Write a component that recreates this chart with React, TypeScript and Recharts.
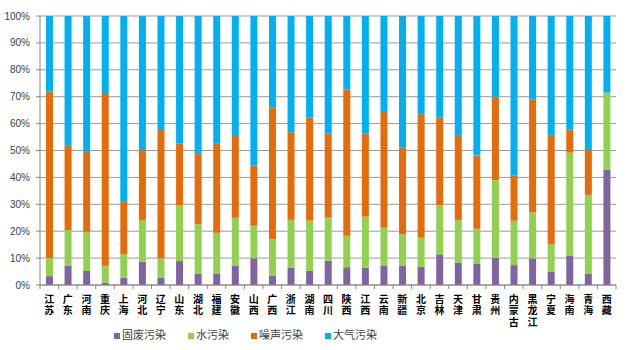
import React from 'react';
import { BarChart, Bar, XAxis, YAxis, CartesianGrid } from 'recharts';

const provinces = ['江苏', '广东', '河南', '重庆', '上海', '河北', '辽宁', '山东', '湖北', '福建', '安徽', '山西', '广西', '浙江', '湖南', '四川', '陕西', '江西', '云南', '新疆', '北京', '吉林', '天津', '甘肃', '贵州', '内蒙古', '黑龙江', '宁夏', '海南', '青海', '西藏'];
const solidWaste = [3.3, 7.2, 5.2, 0.9, 2.7, 8.7, 2.7, 8.9, 4.1, 4.3, 7.2, 9.9, 3.5, 6.4, 5.3, 9.0, 6.6, 6.4, 7.2, 7.2, 6.8, 11.4, 8.3, 7.8, 10.1, 7.4, 9.9, 4.9, 10.8, 4.1, 42.8];
const water = [6.7, 13.2, 14.6, 6.3, 8.7, 15.5, 7.2, 20.8, 18.6, 15.1, 17.8, 12.1, 13.5, 17.8, 18.6, 16.2, 11.7, 19.0, 14.1, 11.6, 10.8, 18.3, 15.9, 13.1, 28.9, 16.5, 17.1, 10.3, 38.4, 29.4, 28.7];
const noise = [61.9, 31.4, 30.0, 63.8, 19.8, 26.4, 47.7, 23.0, 26.3, 33.3, 30.4, 22.4, 48.9, 32.6, 38.4, 31.2, 54.4, 31.0, 43.4, 32.2, 45.9, 32.5, 31.6, 27.2, 31.0, 16.7, 42.0, 40.6, 8.7, 16.7, 0];
const air = [28.1, 48.2, 50.2, 29.0, 68.8, 49.4, 42.4, 47.3, 51.0, 47.3, 44.6, 55.6, 34.1, 43.2, 37.7, 43.6, 27.3, 43.6, 35.3, 49.0, 36.5, 37.8, 44.2, 51.9, 30.0, 59.4, 31.0, 44.2, 42.1, 49.8, 28.5];
const seriesNames = ['固废污染', '水污染', '噪声污染', '大气污染'];
const seriesKeys = ['solid', 'water', 'noise', 'air'];
const seriesColors = ['#8064A2', '#92D050', '#E46C0A', '#00B0F0'];
const yTicks = [0, 0.1, 0.2, 0.3, 0.4, 0.5, 0.6, 0.7, 0.8, 0.9, 1];

const data = provinces.map((p, i) => ({
  name: p,
  solid: solidWaste[i],
  water: water[i],
  noise: noise[i],
  air: air[i],
}));

const CJK = '"Noto Sans CJK SC", "Noto Sans", sans-serif';
const BAND = (616 - 40) / provinces.length;

const XTick = (props: any) => {
  const { x, y, payload } = props;
  return (
    <g>
      <line x1={x - BAND / 2} x2={x - BAND / 2} y1={y - 8} y2={y - 4} stroke="#868686" />
      {payload.index === provinces.length - 1 ? (
        <line x1={x + BAND / 2} x2={x + BAND / 2} y1={y - 8} y2={y - 4} stroke="#868686" />
      ) : null}
      <text
        x={x}
        y={y + 1}
        fontFamily={CJK}
        fontSize={10}
        fontWeight={700}
        fill="#000"
        style={{ writingMode: 'vertical-rl', letterSpacing: '1.5px' }}
      >
        {payload.value}
      </text>
    </g>
  );
};

export default function App() {
  return (
    <div style={{ position: 'absolute', left: 0, top: 0, width: 627, height: 350, background: '#fff' }}>
      <BarChart
        width={627}
        height={350}
        data={data}
        stackOffset="expand"
        margin={{ top: 16, right: 11, bottom: 0, left: 0 }}
        barCategoryGap={0}
      >
        <CartesianGrid vertical={false} stroke="#9a9a9a" />
        <XAxis
          dataKey="name"
          interval={0}
          height={65}
          tickLine={false}
          axisLine={{ stroke: '#868686' }}
          tick={<XTick />}
        />
        <YAxis
          width={40}
          domain={[0, 1]}
          ticks={yTicks}
          tickFormatter={(v: number) => `${Math.round(v * 100)}%`}
          tick={{ fontSize: 10, fill: '#404040', fontFamily: 'Arial, "Liberation Sans", sans-serif' }}
          tickSize={4}
          tickMargin={6}
          tickLine={{ stroke: '#868686' }}
          axisLine={{ stroke: '#868686' }}
          interval={0}
        />
        {seriesKeys.map((k, i) => (
          <Bar key={k} dataKey={k} name={seriesNames[i]} stackId="a" fill={seriesColors[i]} barSize={7} isAnimationActive={false} />
        ))}
      </BarChart>
      <div
        style={{
          position: 'absolute',
          left: 114,
          top: 327,
          display: 'flex',
          alignItems: 'center',
          fontFamily: CJK,
          fontSize: 11,
          color: '#404040',
          lineHeight: '14px',
        }}
      >
        {seriesNames.map((n, i) => (
          <div key={n} style={{ display: 'flex', alignItems: 'center', marginRight: 22 }}>
            <span style={{ display: 'inline-block', width: 6, height: 6, background: seriesColors[i], marginRight: 2, marginTop: 3 }} />
            <span>{n}</span>
          </div>
        ))}
      </div>
    </div>
  );
}
